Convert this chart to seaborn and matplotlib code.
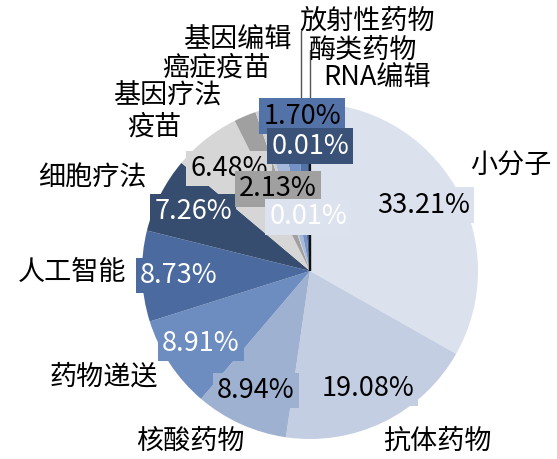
import matplotlib
matplotlib.use("Agg")
import matplotlib.pyplot as plt
import seaborn as sns
import numpy as np

# --- DATA ---
categories = ["小分子", "抗体药物", "核酸药物", "药物递送", "人工智能", "细胞疗法",
              "疫苗", "基因疗法", "癌症疫苗", "基因编辑", "放射性药物", "酶类药物", "RNA编辑"]
shares = [33.21, 19.08, 8.94, 8.91, 8.73, 7.26, 6.48, 2.13, 0.34, 1.78, 1.70, 1.42, 0.02]
pct_text = ["33.21%", "19.08%", "8.94%", "8.91%", "8.73%", "7.26%", "6.48%",
            "2.13%", "", "", "1.70%", "0.01%", "0.01%"]

# --- STYLE ---
colors = ["#dbe2ee", "#c3cee2", "#9fb1d1", "#6d8cbf", "#4b6ba0", "#374d70",
          "#d6d6d6", "#a0a0a0", "#cfcfcf", "#a6b9da", "#7592c4", "#5373a8", "#111111"]
text_colors = ["black", "black", "black", "white", "white", "white", "black",
               "black", "black", "black", "black", "white", "white"]
box_colors = list(colors)
box_colors[10] = "#5373a8"
box_colors[11] = "#3a5278"
box_colors[12] = "#dce3ee"

W, H = 557, 459
CX, CY, R = 310, 271, 168  # pie centre and radius in pixels


def px(x, y):
    """pixel position (from top-left) -> pie data coords"""
    return (x - CX) / R, (CY - y) / R


# manual placement of crowded percentage labels (pixels)
pct_pos = {7: (278, 189), 10: (302, 116), 11: (310, 146), 12: (308, 217)}
# category label centres (pixels)
cat_pos = [(511, 166), (437, 441), (190, 441), (104, 377), (72, 272), (92, 178),
           (154, 127), (167, 96), (216, 68), (237, 40), (367, 21), (363, 50), (377, 78)]
# leader lines for the two labels above the pie: x pixel, top y pixel
leaders = [(301, 31), (310, 50)]

sns.set_theme(style="white")
plt.rcParams['font.family'] = ['Noto Sans CJK SC', 'DejaVu Sans']
FS_PCT = 19.5
FS_CAT = 19.5

fig = plt.figure(figsize=(W / 100, H / 100), dpi=100)
ax = fig.add_axes([0, 0, 1, 1])

wedges, _ = ax.pie(shares, colors=colors, startangle=90, counterclock=False,
                   radius=1, wedgeprops=dict(linewidth=0))
wedges[-1].set_edgecolor("#111111")
wedges[-1].set_linewidth(1.6)

# pie() resets the limits, so fix the pixel mapping afterwards
ax.set_xlim(-CX / R, (W - CX) / R)
ax.set_ylim(-(H - CY) / R, CY / R)
ax.set_aspect("equal")
ax.axis("off")

# leader lines
for lx, ly in leaders:
    x0, y0 = px(lx, ly)
    ax.plot([x0, x0], [y0, np.sqrt(1 - x0 ** 2)], color="#555555", lw=1, zorder=3)

# percentage labels
for i, w in enumerate(wedges):
    if not pct_text[i]:
        continue
    if i in pct_pos:
        x, y = px(*pct_pos[i])
    else:
        mid = np.deg2rad((w.theta1 + w.theta2) / 2)
        x, y = 0.78 * np.cos(mid), 0.78 * np.sin(mid)
    ax.text(x, y, pct_text[i], ha="center", va="center", fontsize=FS_PCT,
            color=text_colors[i], zorder=5,
            bbox=dict(boxstyle="square,pad=0.15", fc=box_colors[i], ec="none"))

# category labels
for name, (x, y) in zip(categories, cat_pos):
    ax.text(*px(x, y), name, ha="center", va="center", fontsize=FS_CAT, color="black")

fig.savefig("out.png", dpi=100)
